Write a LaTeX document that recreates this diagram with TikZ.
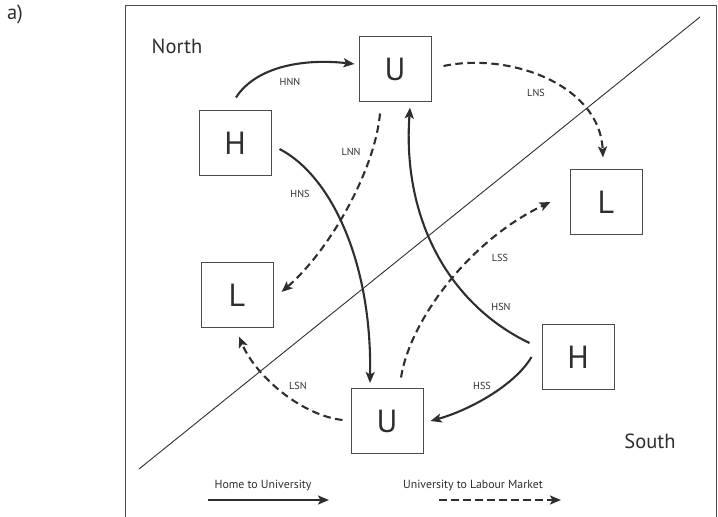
\documentclass[tikz,border=0pt]{standalone}
\usepackage{fontspec}
\setmainfont{PT Sans}
\usetikzlibrary{arrows.meta,calc}
\definecolor{ink}{HTML}{2E2E2E}
\definecolor{boxgray}{HTML}{4A4A4A}
\tikzset{
  every node/.style={text=ink},
  letterbox/.style={draw=boxgray, line width=1pt, minimum width=72pt, minimum height=65pt, inner sep=0pt, font=\fontsize{32}{34}\selectfont},
  flowlabel/.style={font=\fontsize{10.2}{11}\selectfont, inner sep=0pt},
  regionlabel/.style={font=\fontsize{20.5}{22}\selectfont, inner sep=0pt},
  legendlabel/.style={font=\fontsize{11.8}{13}\selectfont, inner sep=0pt},
  solidarr/.style={draw=ink, line width=2.1pt, -{Stealth[length=11pt,width=9pt,inset=2.5pt]}},
  dasharr/.style={draw=ink, line width=2.1pt, dash pattern=on 7.5pt off 4.5pt, -{Stealth[length=11pt,width=9pt,inset=2.5pt]}},
  frameline/.style={draw=boxgray, line width=1pt},
  divider/.style={draw=ink, line width=0.9pt}
}
\begin{document}
\begin{tikzpicture}[x=1pt,y=-1pt]
\path[use as bounding box] (0,0) rectangle (718,517);
% frame
\coordinate (f1) at (125,517);
\coordinate (f2) at (125,5);
\coordinate (f3) at (716,5);
\coordinate (f4) at (716,517);
\draw[frameline] (f1) -- (f2) -- (f3) -- (f4);
% diagonal
\coordinate (d1) at (139,469);
\coordinate (d2) at (700,17);
\draw[divider] (d1) -- (d2);
% labels
\node[regionlabel] (a) at (15,14) {a)};
\node[regionlabel] (north) at (177,46) {North};
\node[regionlabel] (south) at (650,441) {South};
% boxes
\node[letterbox] (Hn) at (235,143) {H};
\node[letterbox] (Ut) at (395,69) {U};
\node[letterbox] (Lr) at (606,202) {L};
\node[letterbox] (Ll) at (237,295) {L};
\node[letterbox] (Hs) at (578,357) {H};
\node[letterbox] (Ub) at (387,421) {U};
% flows
\draw[solidarr] ($(Hn.north)+(1,-12.5)$) .. controls (255,68) and (300,58) .. ($(Ut.west)+(-4,-5)$);
\draw[solidarr] ($(Hn.east)+(8,6)$) .. controls (330,175) and (372,260) .. ($(Ub.north)+(-17,-5)$);
\draw[dasharr] ($(Ut.south)+(-15,11.5)$) .. controls (375,170) and (330,250) .. ($(Ll.east)+(8,-3)$);
\draw[dasharr] ($(Ut.east)+(12,-3)$) .. controls (510,52) and (600,85) .. ($(Lr.north)+(-3,-11.5)$);
\draw[dasharr] ($(Ub.north)+(14,-10.5)$) .. controls (410,320) and (470,240) .. ($(Lr.west)+(-19,0)$);
\draw[solidarr] ($(Hs.west)+(-12,-14)$) .. controls (450,305) and (402,220) .. ($(Ut.south)+(15,5.5)$);
\draw[solidarr] ($(Hs.west)+(-10,0)$) .. controls (515,385) and (470,410) .. ($(Ub.east)+(7,0)$);
\draw[dasharr] ($(Ub.west)+(-8,-1)$) .. controls (300,415) and (255,375) .. ($(Ll.south)+(2,8.5)$);
% flow labels
\node[flowlabel] (hnn) at (290,82) {HNN};
\node[flowlabel] (lnn) at (351,152) {LNN};
\node[flowlabel] (hns) at (300,194) {HNS};
\node[flowlabel] (lns) at (536,93) {LNS};
\node[flowlabel] (lss) at (500,258) {LSS};
\node[flowlabel] (hsn) at (501,307) {HSN};
\node[flowlabel] (hss) at (482,386) {HSS};
\node[flowlabel] (lsn) at (298,386) {LSN};
% legend
\node[legendlabel] (leg1) at (263,486) {Home to University};
\node[legendlabel] (leg2) at (473,486) {University to Labour Market};
\coordinate (h1) at (208,500);
\coordinate (h2) at (329,500);
\coordinate (u1) at (439,500);
\coordinate (u2) at (561,500);
\draw[solidarr] (h1) -- (h2);
\draw[dasharr] (u1) -- (u2);
\end{tikzpicture}
\end{document}
